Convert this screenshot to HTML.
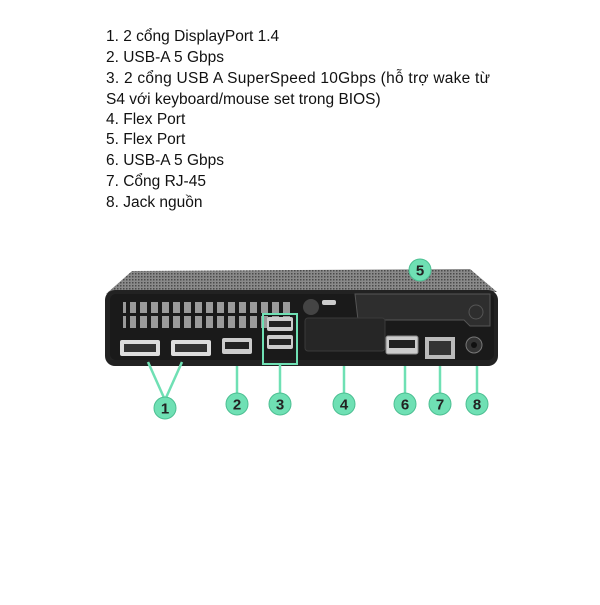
<!DOCTYPE html>
<html><head><meta charset="utf-8"><style>
body{margin:0;background:#fff;width:600px;height:600px;overflow:hidden}
</style></head><body>
<svg width="600" height="600" xmlns="http://www.w3.org/2000/svg">
<defs>
<pattern id="mesh" width="3" height="3" patternUnits="userSpaceOnUse">
<rect width="3" height="3" fill="#8a8a8a"/><rect width="1.5" height="1.5" fill="#4a4a4a"/>
</pattern>
</defs>
<g font-family="Liberation Sans, DejaVu Sans, sans-serif" font-size="15.5" fill="#111" textLength="0">
<text x="106" y="41">1. 2 cổng DisplayPort 1.4</text>
<text x="106" y="62">2. USB-A 5 Gbps</text>
<text x="106" y="83" textLength="384" lengthAdjust="spacing">3. 2 cổng USB A SuperSpeed 10Gbps (hỗ trợ wake từ</text>
<text x="106" y="104">S4 với keyboard/mouse set trong BIOS)</text>
<text x="106" y="124">4. Flex Port</text>
<text x="106" y="144">5. Flex Port</text>
<text x="106" y="165">6. USB-A 5 Gbps</text>
<text x="106" y="186">7. Cổng RJ-45</text>
<text x="106" y="207">8. Jack nguồn</text>
</g>
<path d="M132,271 L470,269 L497,292 L106,294 Z" fill="url(#mesh)"/>
<rect x="105" y="290" width="393" height="76" rx="10" fill="#222"/>
<rect x="110" y="294" width="384" height="66" rx="6" fill="#1a1a1a"/>
<rect x="123" y="302" width="167" height="30" fill="#9a9a9a"/>
<g fill="#1a1a1a">
<rect x="123" y="313" width="167" height="3"/>
<rect x="123" y="328" width="167" height="4"/>
</g>
<g stroke="#1a1a1a" stroke-width="4">
<line x1="128" y1="300" x2="128" y2="332"/><line x1="138" y1="300" x2="138" y2="332"/>
<line x1="149" y1="300" x2="149" y2="332"/><line x1="160" y1="300" x2="160" y2="332"/>
<line x1="171" y1="300" x2="171" y2="332"/><line x1="182" y1="300" x2="182" y2="332"/>
<line x1="193" y1="300" x2="193" y2="332"/><line x1="204" y1="300" x2="204" y2="332"/>
<line x1="215" y1="300" x2="215" y2="332"/><line x1="226" y1="300" x2="226" y2="332"/>
<line x1="237" y1="300" x2="237" y2="332"/><line x1="248" y1="300" x2="248" y2="332"/>
<line x1="259" y1="300" x2="259" y2="332"/><line x1="270" y1="300" x2="270" y2="332"/>
<line x1="281" y1="300" x2="281" y2="332"/>
</g>
<path d="M355,294 L490,294 L490,326 L470,326 L464,320 L358,320 Z" fill="#2e2e2e" stroke="#555"/>
<rect x="305" y="318" width="80" height="33" rx="3" fill="#262626" stroke="#3a3a3a"/>
<circle cx="311" cy="307" r="8" fill="#444"/>
<rect x="322" y="300" width="14" height="5" rx="2" fill="#ccc"/>
<rect x="120" y="340" width="40" height="16" rx="2" fill="#ddd"/><rect x="124" y="344" width="32" height="8" fill="#333"/>
<rect x="171" y="340" width="40" height="16" rx="2" fill="#ddd"/><rect x="175" y="344" width="32" height="8" fill="#333"/>
<rect x="222" y="338" width="30" height="16" rx="2" fill="#ccc"/><rect x="225" y="342" width="24" height="7" fill="#222"/>
<rect x="263" y="314" width="34" height="50" fill="none" stroke="#6fe0b4" stroke-width="2"/>
<rect x="267" y="317" width="26" height="14" rx="2" fill="#ccc"/><rect x="269" y="321" width="22" height="6" fill="#222"/>
<rect x="267" y="335" width="26" height="14" rx="2" fill="#ccc"/><rect x="269" y="339" width="22" height="6" fill="#222"/>
<rect x="386" y="336" width="32" height="18" rx="2" fill="#ccc" stroke="#888"/><rect x="389" y="340" width="26" height="8" fill="#222"/>
<rect x="425" y="337" width="30" height="22" fill="#bbb"/><rect x="429" y="341" width="22" height="14" fill="#333"/>
<circle cx="474" cy="345" r="8" fill="#333" stroke="#777"/><circle cx="474" cy="345" r="3" fill="#111"/>
<circle cx="476" cy="312" r="7" fill="none" stroke="#555"/>
<g stroke="#6fe0b4" stroke-width="2.5">
<line x1="165" y1="400" x2="148" y2="362"/><line x1="165" y1="400" x2="182" y2="362"/>
<line x1="237" y1="394" x2="237" y2="366"/>
<line x1="280" y1="394" x2="280" y2="364"/>
<line x1="344" y1="394" x2="344" y2="366"/>
<line x1="405" y1="394" x2="405" y2="366"/>
<line x1="440" y1="394" x2="440" y2="366"/>
<line x1="477" y1="394" x2="477" y2="366"/>
</g>
<g fill="#6fe0b4" stroke="#4cbf92" stroke-width="1">
<circle cx="165" cy="408" r="11"/><circle cx="237" cy="404" r="11"/><circle cx="280" cy="404" r="11"/>
<circle cx="344" cy="404" r="11"/><circle cx="420" cy="270" r="11"/><circle cx="405" cy="404" r="11"/>
<circle cx="440" cy="404" r="11"/><circle cx="477" cy="404" r="11"/>
</g>
<g font-family="Liberation Sans, sans-serif" font-size="15" font-weight="bold" fill="#222" text-anchor="middle">
<text x="165" y="413.5">1</text><text x="237" y="409.5">2</text><text x="280" y="409.5">3</text>
<text x="344" y="409.5">4</text><text x="420" y="275.5">5</text><text x="405" y="409.5">6</text>
<text x="440" y="409.5">7</text><text x="477" y="409.5">8</text>
</g>
</svg>
</body></html>
